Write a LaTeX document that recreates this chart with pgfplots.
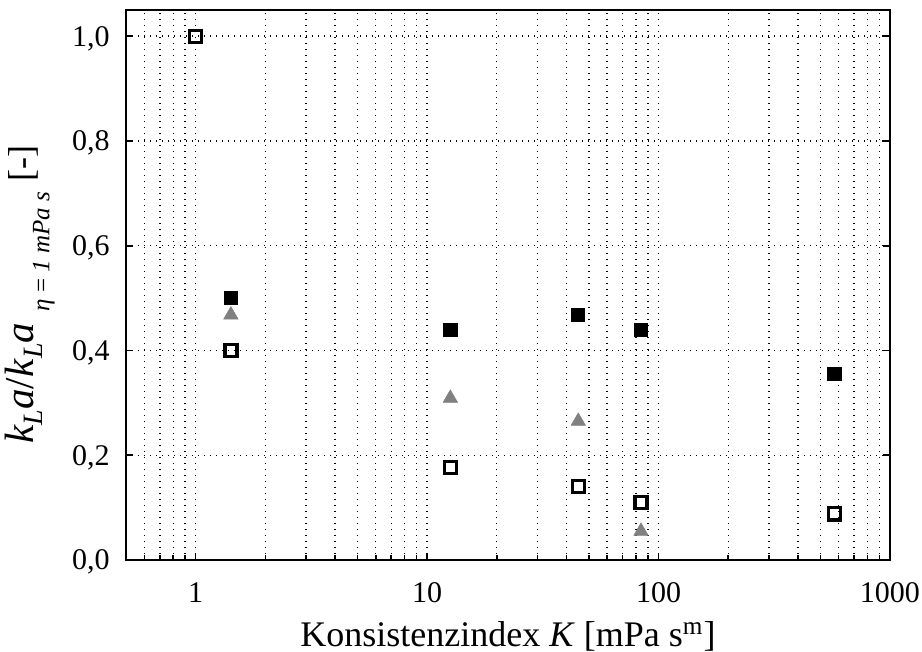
\documentclass[border=0pt]{standalone}
\usepackage{fontspec}
\setmainfont{Liberation Serif}
\usepackage{pgfplots}
\pgfplotsset{compat=1.18}
\definecolor{triGray}{RGB}{128,128,128}
\begin{document}
\begin{tikzpicture}
\useasboundingbox (-63pt,-46pt) rectangle (398pt,280pt);
\begin{axis}[
  at={(0,0)}, anchor=south west,
  scale only axis, width=382pt, height=275pt,
  xmode=log,
  xmin=0.5, xmax=1000, ymin=0, ymax=1.05,
  xtick={1,10,100,1000}, xticklabels={1,10,100,1000},
  minor xtick={0.6,0.7,0.8,0.9,2,3,4,5,6,7,8,9,20,30,40,50,60,70,80,90,200,300,400,500,600,700,800,900},
  ytick={0,0.2,0.4,0.6,0.8,1.0},
  /pgf/number format/assume math mode=true,
  yticklabel style={/pgf/number format/fixed, /pgf/number format/fixed zerofill, /pgf/number format/precision=1, /pgf/number format/use comma,
    anchor=base east, inner sep=0pt, xshift=-8pt, yshift=-5pt, font=\fontsize{15}{18}\selectfont},
  xticklabel style={anchor=base, inner sep=0pt, yshift=-21.5pt, font=\fontsize{15}{18}\selectfont},
  xtick pos=bottom, ytick pos=both,
  tick align=inside,
  major tick length=3.5pt, minor tick length=2.5pt,
  tick style={black, line width=0.8pt},
  axis line style={black, line width=1pt},
  grid=both,
  major grid style={black, line width=0.7pt, dash pattern=on 0.7pt off 2.3pt},
  minor grid style={black, line width=0.7pt, dash pattern=on 0.7pt off 2.3pt},
  every axis y label/.style={at={(axis description cs:-0.126,0.482)}, rotate=90, anchor=center},
  every axis x label/.style={at={(axis description cs:0.5,0)}, anchor=base, yshift=-43.5pt},
  xlabel={\fontsize{18}{21}\selectfont Konsistenzindex \textit{K} [mPa s\textsuperscript{m}]},
  ylabel={\fontsize{20.5}{24}\selectfont\textit{k}\raisebox{-0.22em}{\fontsize{14}{16}\selectfont\textit{L}}\textit{a}/\textit{k}\raisebox{-0.22em}{\fontsize{14}{16}\selectfont\textit{L}}\textit{a}\hspace{0.12em}\raisebox{-0.4em}{\fontsize{12.5}{15}\selectfont\ \textit{η} = \textit{1 mPa s}}\ \fontsize{18}{21}\selectfont[-]},
]
% filled squares
\addplot[only marks, color=black, mark=square*, mark size=3.3pt, mark options={draw=black, fill=black, line width=0.4pt}]
  coordinates {(1.42,0.50) (12.6,0.44) (45,0.468) (84,0.44) (575,0.356)};
% gray triangles
\addplot[only marks, color=triGray, mark=triangle*, mark size=4.2pt, mark options={draw=triGray, fill=triGray, line width=0.2pt}]
  coordinates {(1.42,0.468) (12.6,0.309) (45,0.265) (84,0.055)};
% open squares
\addplot[only marks, color=black, mark=square, mark size=3pt, mark options={draw=black, fill=white, line width=1.6pt}]
  coordinates {(1,1.0) (1.42,0.40) (12.6,0.177) (45,0.140) (84,0.110) (575,0.088)};
\end{axis}
\end{tikzpicture}
\end{document}
